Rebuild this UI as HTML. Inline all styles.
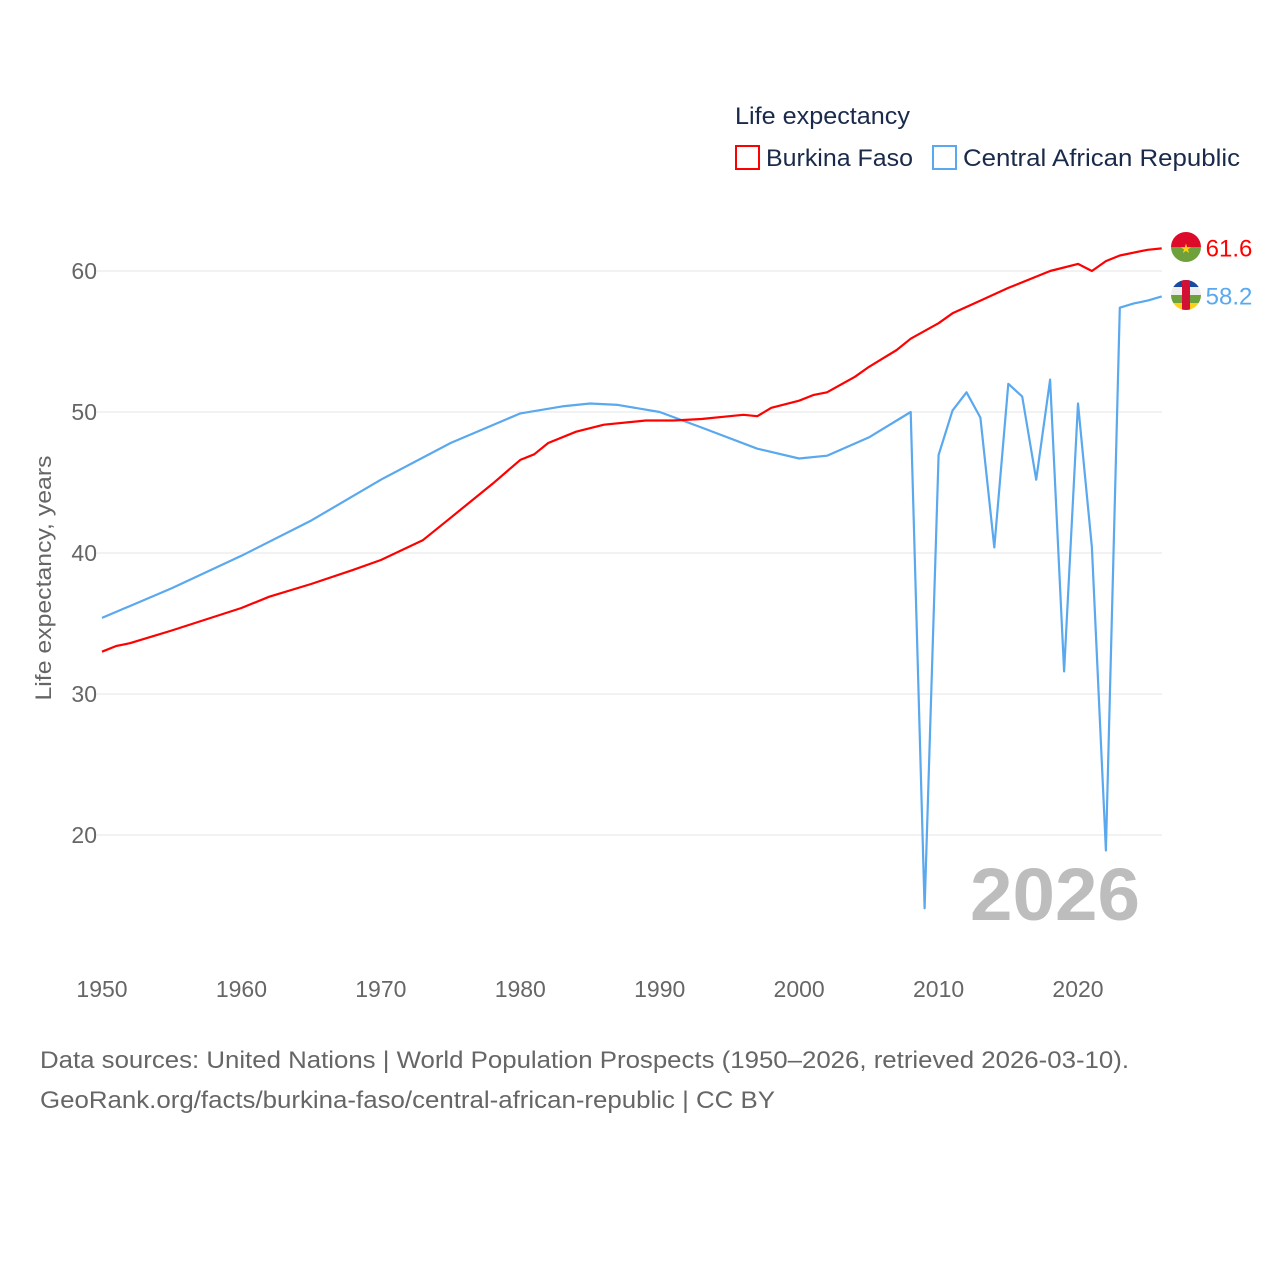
<!DOCTYPE html>
<html><head><meta charset="utf-8"><style>
body{margin:0;background:#fff;font-family:"Liberation Sans",sans-serif}
svg text{font-family:"Liberation Sans",sans-serif}
</style></head><body>
<svg id="chart" width="1280" height="1280" viewBox="0 0 1280 1280" xmlns="http://www.w3.org/2000/svg">
<defs>
<clipPath id="cbf"><circle cx="1186" cy="247" r="15"/></clipPath>
<clipPath id="ccar"><circle cx="1186" cy="295" r="15"/></clipPath>
</defs>
<text x="735" y="124" font-size="24" fill="#1a2a4a" textLength="175" lengthAdjust="spacingAndGlyphs">Life expectancy</text>
<g><rect x="736" y="146" width="23" height="23" fill="none" stroke="#f00" stroke-width="2"/><text x="766" y="166" font-size="24" fill="#1a2a4a" textLength="147" lengthAdjust="spacingAndGlyphs">Burkina Faso</text></g>
<g><rect x="933" y="146" width="23" height="23" fill="none" stroke="#5aa8ee" stroke-width="2"/><text x="963" y="166" font-size="24" fill="#1a2a4a" textLength="277" lengthAdjust="spacingAndGlyphs">Central African Republic</text></g>
<g id="grid"></g>
<text x="1140" y="920" font-size="74" font-weight="bold" fill="#bdbdbd" text-anchor="end" textLength="170" lengthAdjust="spacingAndGlyphs">2026</text>
<g id="series"></g>
<g clip-path="url(#cbf)">
<rect x="1170" y="231" width="32" height="16" fill="#de0a2a"/><rect x="1170" y="247" width="32" height="16" fill="#6ea03c"/>
<text x="1186" y="253" font-size="13" fill="#fcd116" text-anchor="middle">★</text></g>
<g clip-path="url(#ccar)">
<rect x="1170" y="279" width="32" height="8" fill="#1a4aa0"/><rect x="1170" y="287" width="32" height="8" fill="#eee"/>
<rect x="1170" y="295" width="32" height="8" fill="#6ea03c"/><rect x="1170" y="303" width="32" height="8" fill="#fcd116"/>
<rect x="1182" y="279" width="8" height="32" fill="#d21034"/></g>
<text transform="translate(51,578) rotate(-90)" font-size="22" fill="#666" text-anchor="middle" textLength="245" lengthAdjust="spacingAndGlyphs">Life expectancy, years</text>
<text x="40" y="1068" font-size="24" fill="#666" textLength="1089" lengthAdjust="spacingAndGlyphs">Data sources: United Nations | World Population Prospects (1950–2026, retrieved 2026-03-10).</text>
<text x="40" y="1108" font-size="24" fill="#666" textLength="735" lengthAdjust="spacingAndGlyphs">GeoRank.org/facts/burkina-faso/central-african-republic | CC BY</text>
</svg>
<script>
const yTicks=[20,30,40,50,60];
const xTicks=[1950,1960,1970,1980,1990,2000,2010,2020];
const bfYears=[1950,1951,1952,1955,1960,1962,1965,1968,1970,1973,1975,1978,1980,1981,1982,1984,1986,1989,1991,1993,1995,1996,1997,1998,2000,2001,2002,2004,2005,2006,2007,2008,2010,2011,2013,2015,2018,2020,2021,2022,2023,2025,2026];
const bfValues=[33.0,33.4,33.6,34.5,36.1,36.9,37.8,38.8,39.5,40.9,42.5,44.9,46.6,47.0,47.8,48.6,49.1,49.4,49.4,49.5,49.7,49.8,49.7,50.3,50.8,51.2,51.4,52.5,53.2,53.8,54.4,55.2,56.3,57.0,57.9,58.8,60.0,60.5,60.0,60.7,61.1,61.5,61.6];
const carYears=[1950,1955,1960,1965,1970,1975,1980,1983,1985,1987,1990,1993,1997,2000,2002,2005,2007,2008,2009,2010,2011,2012,2013,2014,2015,2016,2017,2018,2019,2020,2021,2022,2023,2024,2025,2026];
const carValues=[35.4,37.5,39.8,42.3,45.2,47.8,49.9,50.4,50.6,50.5,50.0,48.9,47.4,46.7,46.9,48.2,49.4,50.0,14.8,46.95,50.1,51.4,49.6,40.4,52.0,51.1,45.2,52.3,31.6,50.6,40.4,18.9,57.4,57.7,57.9,58.2];
const NS="http://www.w3.org/2000/svg";
const xs=y=>102+(y-1950)*(976/70);
const ys=v=>271+(60-v)*14.1;
const grid=document.getElementById('grid');
function mk(tag,attrs,parent){const e=document.createElementNS(NS,tag);for(const k in attrs)e.setAttribute(k,attrs[k]);parent.appendChild(e);return e;}
yTicks.forEach(t=>{
 const l=mk('line',{x1:97,x2:1162,y1:ys(t),y2:ys(t),stroke:'#e6e6e6','stroke-width':1},grid);
 
 
 const tx=mk('text',{x:97,y:ys(t)+8,'font-size':23,fill:'#666','text-anchor':'end'},grid);
 tx.textContent=t;
 
 
});
xTicks.forEach(t=>{
 const tx=mk('text',{x:xs(t),y:997,'font-size':23,fill:'#666','text-anchor':'middle'},grid);
 tx.textContent=t;
 
 
});
const ser=document.getElementById('series');
function line(years,vals,color,name,label){
 const d=years.map((y,i)=>(i?'L':'M')+xs(y).toFixed(1)+','+ys(vals[i]).toFixed(1)).join('');
 const p=mk('path',{d:d,fill:'none',stroke:color,'stroke-width':2.2,'stroke-linejoin':'round'},ser);
 
 
 const lx=xs(years[years.length-1]),ly=ys(vals[vals.length-1]);
 const t=mk('text',{x:lx+44,y:ly+8,'font-size':24,fill:color},ser);
 t.textContent=label;
 
 
}
line(carYears,carValues,'#5aa8ee','central-african-republic',carValues[carValues.length-1].toFixed(1));
line(bfYears,bfValues,'#f00','burkina-faso',bfValues[bfValues.length-1].toFixed(1));
</script>
</body></html>
